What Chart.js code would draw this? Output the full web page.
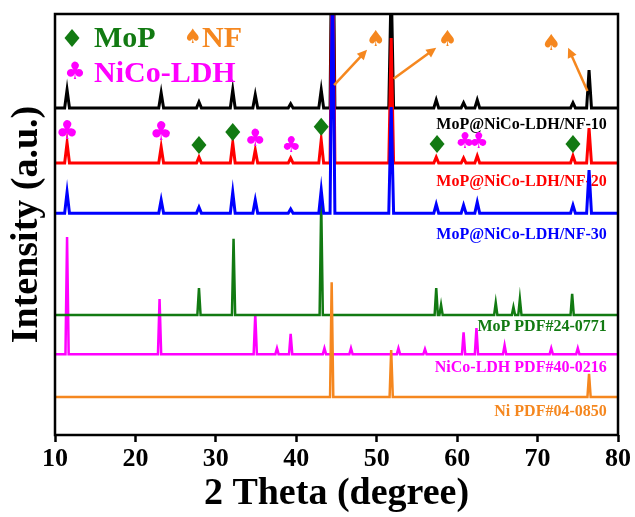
<!DOCTYPE html>
<html lang="en">

<head>
  <meta charset="UTF-8" />
  <title>XRD</title>
  <style>
    body { margin: 0; background: #fff; }
    div { width: 635px; height: 517px; }
  </style>
</head>

<body>
  <div>
    <canvas id="myChart"></canvas>
  </div>

  <script src="https://cdn.jsdelivr.net/npm/chart.js"></script>
  <script>
    // peak positions (2 theta) shared by the three measured samples
    const expPeaks = [11.5, 23.2, 27.9, 32.1, 34.9, 39.3, 43.1, 44.5, 51.8, 57.4, 60.8, 62.5, 74.4, 76.4];
    const nf10 = [4.3, 3.6, 1.4, 4.3, 3.1, 1.0, 4.3, 60, 30, 1.9, 1.2, 1.9, 1.2, 9.0];
    const nf20 = [4.8, 3.8, 1.4, 4.8, 3.1, 1.2, 5.5, 60, 29.7, 1.4, 1.2, 1.7, 1.7, 8.3];
    const nf30 = [5.0, 3.1, 1.4, 5.0, 3.1, 1.0, 5.5, 60, 25.2, 2.1, 1.9, 2.6, 1.9, 10.2];

    // reference cards
    const mopPeaks = [27.9, 32.2, 43.1, 57.4, 58.0, 64.8, 67.0, 67.8, 74.3];
    const mopInt = [6.4, 18.1, 26.8, 6.4, 2.4, 2.9, 1.9, 3.8, 5.0];
    const ldhPeaks = [11.5, 23.0, 34.9, 37.6, 39.3, 43.5, 46.8, 52.7, 56.0, 60.8, 62.4, 65.9, 71.7, 75.0];
    const ldhInt = [27.8, 13.1, 9.5, 1.4, 4.8, 1.4, 1.4, 1.4, 1.2, 5.2, 6.2, 2.1, 1.4, 1.4];
    const niPeaks = [44.4, 51.8, 76.4];
    const niInt = [27.3, 11.2, 5.5];

    // vertical offsets of each pattern
    const offsets = [77.7, 64.6, 52.7, 28.5, 19.2, 9.0];
    const names = ["MoP@NiCo-LDH/NF-10", "MoP@NiCo-LDH/NF-20", "MoP@NiCo-LDH/NF-30",
      "MoP PDF#24-0771", "NiCo-LDH PDF#40-0216", "Ni PDF#04-0850"];
    const colors = ["#000000", "#ff0000", "#0000ff", "#127a12", "#ff00ff", "#f5871f"];
    const labelY = [73.6, 60.1, 47.5, 25.7, 16.0, 5.6];

    // phase markers
    const mopMarks = [[27.9, 68.9], [32.1, 72.0], [43.1, 73.2], [57.5, 69.1], [74.4, 69.1]];
    const ldhMarks = [[11.5, 72.0, 26], [23.2, 71.7, 26], [34.9, 70.1, 24], [39.4, 68.6, 22], [61.0, 69.6, 22], [62.7, 69.6, 22]];
    const nfMarks = [[49.9, 93.8], [58.8, 93.8], [71.7, 92.9]];
    const nfArrows = [[44.7, 83.1, 48.8, 91.5], [52.1, 84.6, 57.4, 92.0], [76.2, 81.7, 73.8, 92.0]];

    function pattern(base, pos, ht, w) {
      const pts = [{ x: 10, y: base }];
      pos.forEach((p, i) => {
        pts.push({ x: p - w, y: base }, { x: p, y: base + ht[i] }, { x: p + w, y: base });
      });
      pts.push({ x: 80, y: base });
      return pts;
    }

    const serif = "'Liberation Serif', 'Times New Roman', serif";

    const marks = {
      id: "marks",
      beforeDatasetsDraw(chart) {
        const { ctx, scales: { x, y } } = chart;
        ctx.save();
        ctx.font = "bold 16px " + serif;
        ctx.textAlign = "right";
        ctx.textBaseline = "middle";
        names.forEach((n, i) => {
          ctx.fillStyle = colors[i];
          ctx.fillText(n, x.getPixelForValue(78.6), y.getPixelForValue(labelY[i]));
        });
        ctx.restore();
      },
      afterDatasetsDraw(chart) {
        const { ctx, chartArea: a, scales: { x, y } } = chart;
        ctx.save();
        // frame
        ctx.strokeStyle = "#000";
        ctx.lineWidth = 2.5;
        ctx.strokeRect(a.left, a.top, a.right - a.left, a.bottom - a.top);

        const diamond = (cx, cy) => {
          ctx.fillStyle = "#127a12";
          ctx.beginPath();
          ctx.moveTo(cx, cy - 9);
          ctx.lineTo(cx + 7.5, cy);
          ctx.lineTo(cx, cy + 9);
          ctx.lineTo(cx - 7.5, cy);
          ctx.closePath();
          ctx.fill();
        };
        mopMarks.forEach(m => diamond(x.getPixelForValue(m[0]), y.getPixelForValue(m[1])));

        ctx.textAlign = "center";
        ctx.textBaseline = "middle";
        ctx.fillStyle = "#ff00ff";
        ldhMarks.forEach(m => {
          ctx.font = m[2] + "px 'DejaVu Sans'";
          ctx.fillText("\u2663", x.getPixelForValue(m[0]), y.getPixelForValue(m[1]));
        });

        ctx.fillStyle = "#f5871f";
        ctx.font = "22px 'DejaVu Sans'";
        nfMarks.forEach(m => ctx.fillText("\u2660", x.getPixelForValue(m[0]), y.getPixelForValue(m[1])));

        // arrows
        ctx.strokeStyle = "#f5871f";
        ctx.lineWidth = 2.5;
        nfArrows.forEach(r => {
          const x0 = x.getPixelForValue(r[0]), y0 = y.getPixelForValue(r[1]);
          const x1 = x.getPixelForValue(r[2]), y1 = y.getPixelForValue(r[3]);
          const ang = Math.atan2(y1 - y0, x1 - x0);
          ctx.beginPath();
          ctx.moveTo(x0, y0);
          ctx.lineTo(x1 - 6 * Math.cos(ang), y1 - 6 * Math.sin(ang));
          ctx.stroke();
          ctx.beginPath();
          ctx.moveTo(x1, y1);
          ctx.lineTo(x1 - 11 * Math.cos(ang - 0.45), y1 - 11 * Math.sin(ang - 0.45));
          ctx.lineTo(x1 - 11 * Math.cos(ang + 0.45), y1 - 11 * Math.sin(ang + 0.45));
          ctx.closePath();
          ctx.fill();
        });

        // legend
        const lx = a.left, ly = a.top;
        diamond(lx + 17, ly + 24);
        ctx.textAlign = "left";
        ctx.font = "bold 30px " + serif;
        ctx.fillStyle = "#127a12";
        ctx.fillText("MoP", lx + 39, ly + 25);
        ctx.fillStyle = "#f5871f";
        ctx.fillText("NF", lx + 147, ly + 25);
        ctx.font = "20px 'DejaVu Sans'";
        ctx.textAlign = "center";
        ctx.fillText("\u2660", lx + 138, ly + 24);
        ctx.fillStyle = "#ff00ff";
        ctx.font = "24px 'DejaVu Sans'";
        ctx.fillText("\u2663", lx + 20, ly + 59);
        ctx.textAlign = "left";
        ctx.font = "bold 30px " + serif;
        ctx.fillText("NiCo-LDH", lx + 39, ly + 60);
        ctx.restore();
      }
    };

    const series = [
      pattern(offsets[0], expPeaks, nf10, 0.3),
      pattern(offsets[1], expPeaks, nf20, 0.3),
      pattern(offsets[2], expPeaks, nf30, 0.3),
      pattern(offsets[3], mopPeaks, mopInt, 0.2),
      pattern(offsets[4], ldhPeaks, ldhInt, 0.2),
      pattern(offsets[5], niPeaks, niInt, 0.2),
    ];
    const drawOrder = [2, 1, 0, 4, 5, 3];
    const widths = [3, 3, 3, 2.5, 2.5, 2.5];

    const data = {
      datasets: series.map((s, i) => ({
        label: names[i],
        data: s,
        borderColor: colors[i],
        borderWidth: widths[i],
        pointRadius: 0,
        tension: 0,
        order: drawOrder[i],
      })),
    };

    const config = {
      type: "line",
      data: data,
      options: {
        responsive: true,
        maintainAspectRatio: false,
        animation: false,
        layout: { padding: { top: 14, right: 17, left: 0, bottom: 0 } },
        plugins: { legend: { display: false }, tooltip: { enabled: false } },
        scales: {
          x: {
            type: "linear",
            min: 10,
            max: 80,
            ticks: { stepSize: 10, color: "#000", font: { family: serif, size: 26, weight: "bold" }, padding: 2 },
            grid: { drawOnChartArea: false, drawTicks: true, tickLength: 7, tickWidth: 2.5, tickColor: "#000" },
            border: { display: false },
            title: { display: true, text: "2 Theta (degree)", color: "#000", font: { family: serif, size: 38, weight: "bold" }, padding: { top: 0, bottom: 0 } },
            afterFit(s) { s.height = 82; },
          },
          y: {
            min: 0,
            max: 100,
            ticks: { display: false },
            grid: { display: false },
            border: { display: false },
            title: { display: true, text: "Intensity (a.u.)", color: "#000", font: { family: serif, size: 38, weight: "bold" }, padding: { top: 4, bottom: 0 } },
            afterFit(s) { s.width = 55; },
          },
        },
      },
      plugins: [marks],
    };
    new Chart(document.getElementById("myChart"), config);
  </script>
</body>

</html>
